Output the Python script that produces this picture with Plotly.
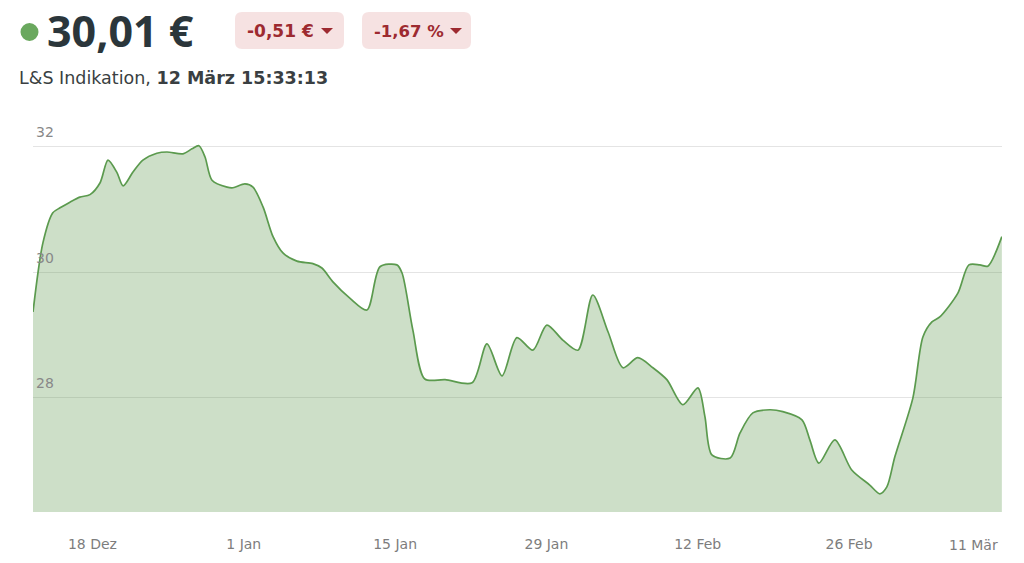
import plotly.graph_objects as go

# ---------------- data ----------------
dates = [
    "2023-12-12 12:00", "2023-12-13 10:00", "2023-12-14 08:00", "2023-12-15 00:00",
    "2023-12-15 22:00", "2023-12-16 20:00", "2023-12-17 18:30", "2023-12-18 17:00",
    "2023-12-19 10:30", "2023-12-20 06:30", "2023-12-20 20:00", "2023-12-21 18:00",
    "2023-12-22 16:00", "2023-12-23 23:00", "2023-12-24 21:30", "2023-12-26 09:00",
    "2023-12-27 05:00", "2023-12-27 20:30", "2023-12-28 10:00", "2023-12-29 01:30",
    "2023-12-30 11:00", "2023-12-31 00:00", "2024-01-01 02:30", "2024-01-01 20:30",
    "2024-01-02 19:00", "2024-01-03 17:00", "2024-01-04 15:00", "2024-01-05 22:00",
    "2024-01-07 09:30", "2024-01-08 05:30", "2024-01-09 06:00", "2024-01-10 19:30",
    "2024-01-12 09:30", "2024-01-13 14:30", "2024-01-15 04:00", "2024-01-15 15:30",
    "2024-01-16 15:30", "2024-01-17 18:00", "2024-01-19 15:00", "2024-01-22 03:00",
    "2024-01-23 12:00", "2024-01-24 21:30", "2024-01-26 06:30", "2024-01-27 18:00",
    "2024-01-29 01:00", "2024-01-30 12:30", "2024-01-31 22:00", "2024-02-02 07:00",
    "2024-02-03 17:00", "2024-02-05 02:00", "2024-02-06 11:00", "2024-02-07 20:30",
    "2024-02-09 03:30", "2024-02-10 15:00", "2024-02-12 00:30", "2024-02-12 16:00",
    "2024-02-13 07:30", "2024-02-15 00:00", "2024-02-15 22:00", "2024-02-17 02:30",
    "2024-02-18 16:00", "2024-02-19 21:00", "2024-02-21 15:30", "2024-02-22 09:00",
    "2024-02-23 05:00", "2024-02-24 16:30", "2024-02-26 06:00", "2024-02-27 22:00",
    "2024-02-28 20:30", "2024-02-29 12:00", "2024-03-01 05:45", "2024-03-02 21:50",
    "2024-03-03 20:00", "2024-03-04 16:00", "2024-03-05 09:30", "2024-03-07 01:40",
    "2024-03-08 02:10", "2024-03-09 02:30", "2024-03-09 20:10", "2024-03-11 03:20",
]
prices = [
    29.37, 30.47, 30.95, 31.03,
    31.12, 31.20, 31.24, 31.43,
    31.79, 31.59, 31.38, 31.60,
    31.79, 31.90, 31.92, 31.89,
    31.97, 32.02, 31.84, 31.47,
    31.36, 31.35, 31.41, 31.36,
    31.04, 30.57, 30.31, 30.18,
    30.14, 30.07, 29.85, 29.59,
    29.40, 30.09, 30.12, 29.99,
    29.08, 28.30, 28.29, 28.24,
    28.86, 28.35, 28.96, 28.76,
    29.16, 28.92, 28.76, 29.64,
    29.05, 28.48, 28.64, 28.48,
    28.29, 27.89, 28.16, 27.70,
    27.09, 27.04, 27.44, 27.76,
    27.81, 27.78, 27.65, 27.33,
    26.96, 27.33, 26.85, 26.61,
    26.47, 26.58, 27.06, 28.00,
    28.97, 29.21, 29.29, 29.67,
    30.12, 30.12, 30.10, 30.57,
]
x_tick_vals = ["2023-12-18", "2024-01-01", "2024-01-15", "2024-01-29", "2024-02-12", "2024-02-26"]
x_tick_text = ["18 Dez", "1 Jan", "15 Jan", "29 Jan", "12 Feb", "26 Feb"]
last_tick_val = "2024-03-11"
last_tick_text = "11 Mär"
y_tick_vals = [28, 30, 32]
y_tick_text = ["28", "30", "32"]

price_text = "30,01 €"
change_abs = "-0,51 €"
change_pct = "-1,67 %"
source_text = "L&S Indikation, "
time_text = "12 März 15:33:13"

x_range = ["2023-12-12 12:00", "2024-03-11 03:40"]
y_range = [26.18, 32.43]

# ---------------- layout geometry ----------------
W, H = 1024, 563
L, R, T, B = 33, 22, 120, 51
PW, PH = W - L - R, H - T - B

def px(x):
    return (x - L) / PW

def py(y):
    return (H - B - y) / PH

def rrect(x0, y0, x1, y1, r):
    rx, ry = r / PW, r / PH
    X0, X1 = px(x0), px(x1)
    Y0, Y1 = py(y1), py(y0)  # bottom, top in paper
    return (f"M {X0+rx},{Y0} L {X1-rx},{Y0} Q {X1},{Y0} {X1},{Y0+ry} "
            f"L {X1},{Y1-ry} Q {X1},{Y1} {X1-rx},{Y1} L {X0+rx},{Y1} "
            f"Q {X0},{Y1} {X0},{Y1-ry} L {X0},{Y0+ry} Q {X0},{Y0} {X0+rx},{Y0} Z")

def tri(xc, yc, w, h):
    return (f"M {px(xc-w/2)},{py(yc-h/2)} L {px(xc+w/2)},{py(yc-h/2)} "
            f"L {px(xc)},{py(yc+h/2)} Z")

FONT_BIG = "Open Sans"
FONT = "DejaVu Sans"
RED = "#9d2a30"
BADGE = "#f6e2e2"
TICK = "#7d7d7d"

fig = go.Figure()
fig.add_trace(go.Scatter(
    x=dates, y=prices, mode="lines",
    line=dict(color="#5b9a4e", width=1.7, shape="spline", smoothing=0.8),
    fill="tozeroy", fillcolor="rgba(88,150,72,0.30)",
    hoverinfo="skip",
))

shapes = [
    dict(type="circle", xref="paper", yref="paper",
         x0=px(20.5), x1=px(38.5), y0=py(41), y1=py(23),
         fillcolor="#6aa85e", line=dict(width=0)),
    dict(type="path", xref="paper", yref="paper", path=rrect(235, 12, 344, 49, 7),
         fillcolor=BADGE, line=dict(width=0)),
    dict(type="path", xref="paper", yref="paper", path=rrect(362, 12, 471, 49, 7),
         fillcolor=BADGE, line=dict(width=0)),
    dict(type="path", xref="paper", yref="paper", path=tri(327, 31, 12, 6),
         fillcolor=RED, line=dict(width=0)),
    dict(type="path", xref="paper", yref="paper", path=tri(456, 31, 12, 6),
         fillcolor=RED, line=dict(width=0)),
]

annotations = [
    dict(text=f"<b>{price_text}</b>", x=px(45), y=py(30), xref="paper", yref="paper",
         xanchor="left", yanchor="middle", showarrow=False,
         font=dict(family=FONT_BIG, size=43, color="#2b363b")),
    dict(text=f"<b>{change_abs}</b>", x=px(245), y=py(31), xref="paper", yref="paper",
         xanchor="left", yanchor="middle", showarrow=False,
         font=dict(family=FONT, size=17, color=RED)),
    dict(text=f"<b>{change_pct}</b>", x=px(372), y=py(31), xref="paper", yref="paper",
         xanchor="left", yanchor="middle", showarrow=False,
         font=dict(family=FONT, size=16.5, color=RED)),
    dict(text=f"{source_text}<b>{time_text}</b>", x=px(17), y=py(78), xref="paper", yref="paper",
         xanchor="left", yanchor="middle", showarrow=False,
         font=dict(family=FONT, size=17.5, color="#3a3f42")),
    dict(text=last_tick_text, x=last_tick_val, y=py(545), xref="x", yref="paper",
         xanchor="right", yanchor="middle", showarrow=False,
         font=dict(family=FONT, size=14, color=TICK)),
]

fig.update_layout(
    width=W, height=H,
    margin=dict(l=L, r=R, t=T, b=B, pad=0, autoexpand=False),
    paper_bgcolor="white", plot_bgcolor="white",
    showlegend=False,
    shapes=shapes, annotations=annotations,
    font=dict(family=FONT),
)
fig.update_xaxes(
    type="date", range=x_range, showgrid=False, zeroline=False, showline=False,
    tickmode="array", tickvals=x_tick_vals, ticktext=x_tick_text, ticks="",
    ticklabelstandoff=22, tickfont=dict(family=FONT, size=14, color=TICK),
    automargin=False, fixedrange=True,
)
fig.update_yaxes(
    range=y_range, showgrid=True, gridcolor="#e4e4e4", gridwidth=1.2,
    zeroline=False, showline=False, tickmode="array",
    tickvals=y_tick_vals, ticktext=y_tick_text, ticks="",
    ticklabelposition="inside top", ticklabelshift=-5,
    tickfont=dict(family=FONT, size=14, color="#888888"),
    automargin=False, fixedrange=True,
)

fig.write_html("out.html", config=dict(displayModeBar=False),
               post_script="document.body.style.margin='0';document.body.style.overflow='hidden';")
